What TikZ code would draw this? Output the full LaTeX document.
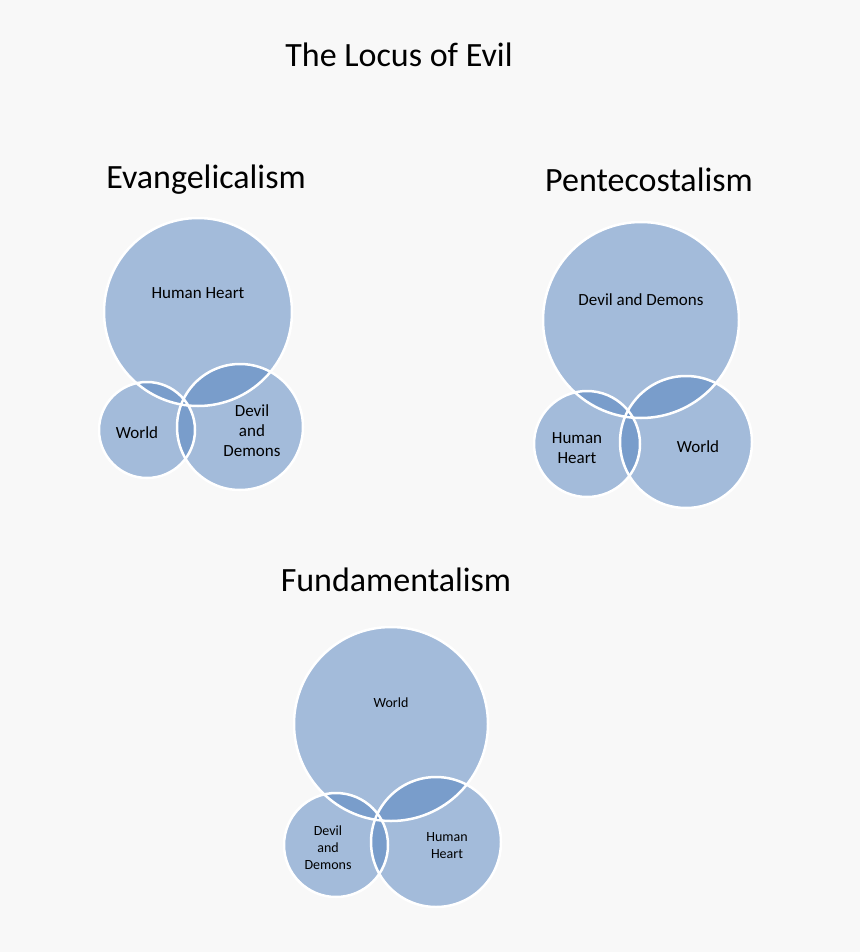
\documentclass[tikz,border=0pt]{standalone}
\usepackage{fontspec}
\setmainfont{Carlito}
\definecolor{bg}{RGB}{248,248,248}
\definecolor{cb}{RGB}{80,128,190}
\tikzset{
  venn/.style={fill=cb,fill opacity=0.5,draw=none},
  rim/.style={draw=white,line width=2.5pt},
  ttl/.style={font=\fontsize{34}{40}\selectfont},
  lab/.style={font=\fontsize{17}{20}\selectfont,align=center,text=black},
  labs/.style={font=\fontsize{14}{17}\selectfont,align=center,text=black}
}
\begin{document}
\begin{tikzpicture}[x=1pt,y=-1pt]
\fill[bg] (0,0) rectangle (860,952);
\useasboundingbox (0,0) rectangle (860,952);
\node[ttl] (t) at (399,55) {The Locus of Evil};
\node[ttl] (te) at (206,180) {Evangelicalism};
\node[ttl] (tp) at (649,180) {Pentecostalism};
\node[ttl] (tf) at (396,580) {Fundamentalism};
% circles
\foreach \x/\y/\r in {198/312/94,147/430/48,240/427/63,641/320/98,587/444/53,686/442/66,391/724/97,336/845/52,436/842/65}{
  \fill[venn] (\x,\y) circle (\r);
}
\foreach \x/\y/\r in {198/312/94,147/430/48,240/427/63,641/320/98,587/444/53,686/442/66,391/724/97,336/845/52,436/842/65}{
  \draw[rim] (\x,\y) circle (\r);
}
\node[lab] (e1) at (198,293) {Human Heart};
\node[lab] (e2) at (137,433) {World};
\node[lab] (e3) at (252,431) {Devil\\and\\Demons};
\node[lab] (p1) at (641,300) {Devil and Demons};
\node[lab] (p2) at (577,448) {Human\\Heart};
\node[lab] (p3) at (698,447) {World};
\node[labs] (f1) at (391,703) {World};
\node[labs] (f2) at (328,848) {Devil\\and\\Demons};
\node[labs] (f3) at (447,846) {Human\\Heart};
\end{tikzpicture}
\end{document}
